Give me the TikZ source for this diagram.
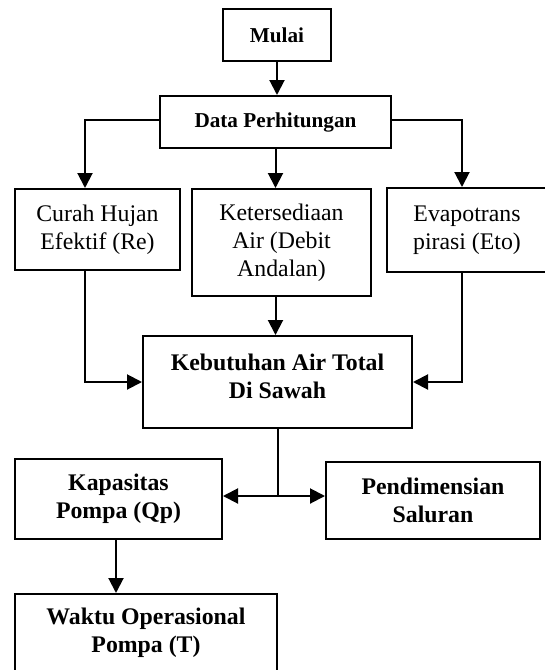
\documentclass[tikz,border=0pt]{standalone}
\usepackage{fontspec}
\setmainfont{Liberation Serif}
\usetikzlibrary{arrows.meta}
\begin{document}
\begin{tikzpicture}[x=0.5pt,y=-0.5pt,
  box/.style={draw=black,line width=1pt,rectangle,inner sep=0pt,align=center,
    font=\fontsize{11.9}{14}\selectfont},
  hbox/.style={box,font=\fontsize{11.9}{14}\selectfont\bfseries},
  sbox/.style={box,font=\fontsize{10.6}{13}\selectfont\bfseries},
  htext/.style={inner sep=0pt,align=center,font=\fontsize{11.9}{14}\selectfont\bfseries},
  conn/.style={line width=1pt},
  arr/.style={line width=1pt,-{Triangle[length=7.5pt,width=7.5pt]}}]
\useasboundingbox (0,0) rectangle (545,670);
% boxes
\node[sbox,minimum width=54pt,minimum height=26pt] (mulai) at (277,35) {Mulai};
\node[sbox,minimum width=115.5pt,minimum height=26pt] (data) at (275.5,122) {Data Perhitungan};
\node[box,minimum width=82.5pt,minimum height=40.5pt] (curah) at (97.5,229.5) {Curah Hujan\\Efektif (Re)};
\node[box,minimum width=89.5pt,minimum height=53.5pt] (ket) at (281.5,242.5) {Ketersediaan\\Air (Debit\\Andalan)};
\node[box,minimum width=80pt,minimum height=42pt] (evapo) at (467,230) {Evapotrans\\pirasi (Eto)};
\node[hbox,minimum width=134.5pt,minimum height=46pt] (keb) at (277.5,382) {};
\node[htext] (kebT) at (277.5,376) {Kebutuhan Air Total\\Di Sawah};
\node[hbox,minimum width=103.5pt,minimum height=40pt] (kap) at (118.5,499) {Kapasitas\\Pompa (Qp)};
\node[hbox,minimum width=107pt,minimum height=38.5pt] (pend) at (433,500.5) {Pendimensian\\Saluran};
\node[hbox,minimum width=131pt,minimum height=39pt] (waktu) at (146,633) {Waktu Operasional\\Pompa (T)};
% helper coordinates
\coordinate (cL) at (85,120);
\coordinate (cR) at (462,120);
\coordinate (cCurah) at (85,382);
\coordinate (cEvapo) at (462,382);
\coordinate (j) at (278,496);
\coordinate (cK) at (116,499);
% connectors
\draw[arr] (mulai.south) -- (mulai.south |- data.north);
\draw[arr] (data.west |- cL) -- (cL) -- (cL |- curah.north);
\draw[arr] (data.south) -- (data.south |- ket.north);
\draw[arr] (data.east |- cR) -- (cR) -- (cR |- evapo.north);
\draw[arr] (cL |- curah.south) -- (cCurah) -- (keb.west |- cCurah);
\draw[arr] (ket.south -| data.south) -- (data.south |- keb.north);
\draw[arr] (cR |- evapo.south) -- (cEvapo) -- (keb.east |- cEvapo);
\draw[conn] (j |- keb.south) -- (j);
\draw[arr] (j) -- (kap.east |- j);
\draw[arr] (j) -- (pend.west |- j);
\draw[arr] (cK |- kap.south) -- (cK |- waktu.north);
\end{tikzpicture}
\end{document}
